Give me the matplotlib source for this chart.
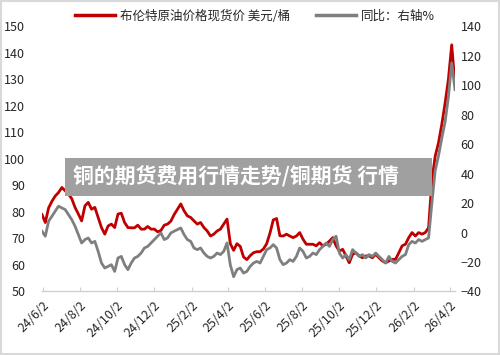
import matplotlib
matplotlib.use('Agg')
import matplotlib.pyplot as plt
from matplotlib.lines import Line2D
from matplotlib.patches import Rectangle
import pandas as pd

plt.rcParams['font.family'] = ['Noto Sans CJK SC', 'DejaVu Sans']

# Brent spot price (USD/bbl) at a regular time step
brent = [79, 76, 81.5, 84, 86, 87.3, 89.2, 88, 86.7, 85,
         81.7, 79.2, 76.6, 82.3, 83.6, 81, 81.7, 77.9, 74.1, 71.6,
         74.7, 75.4, 74.1, 79.2, 79.5, 76, 74.1, 74, 74, 75,
         73.5, 73.5, 74.5, 73.5, 73.5, 72.5, 73, 75, 75.4, 76.5,
         79, 81, 83, 80.4, 78.5, 77.9, 76.6, 75.4, 76, 74.1,
         72.8, 70.9, 71.6, 72.8, 73.5, 75.4, 77.3, 68, 65.5, 68,
         67, 63, 62, 63.5, 64.6, 65, 65, 66, 68, 72,
         77, 77.5, 71, 70.9, 71.6, 70.9, 70.3, 70.9, 72.2, 69.7,
         67.8, 67.8, 67.8, 67.2, 68.4, 67.2, 67.8, 69, 70.3, 67.2,
         65.2, 65.9, 63.4, 60.8, 64, 64.6, 63.4, 62.7, 63.4, 63.4,
         62.7, 64, 62.7, 61.5, 60.8, 61.5, 62.1, 62.1, 64.6, 67.2,
         67.8, 70.3, 72.2, 70.9, 72.2, 71.6, 72.2, 74, 91.8, 101,
         106, 113, 121, 130, 143, 128]

# year-on-year change (%), right axis
yoy = [0.9, -2.5, 7.7, 11, 14.5, 17.9, 16.7, 15.6, 12.2, 8.8,
       4.3, -1.4, -7.1, -4.8, -3.7, -7.1, -6, -12.8, -20.7, -24.1,
       -23, -21.8, -26.4, -17.3, -16.2, -21.8, -25.2, -20.7, -17.3, -16.2,
       -13.9, -10.5, -9.4, -7.1, -4.8, -2.5, -0.3, -4.8, -3.7, -0.3,
       0.9, 2, 3.1, -1.4, -4.8, -6, -10.5, -11.6, -10.5, -13.9,
       -16.2, -17.3, -16.2, -13.9, -15, -12.8, -7.1, -22, -30, -25.2,
       -24.1, -27.5, -26.4, -23, -20.7, -19.6, -20.7, -16.2, -11.6, -10.5,
       -8.2, -10.5, -18.4, -21.8, -20.7, -18.4, -19.6, -16.2, -10.5, -12.8,
       -17.3, -16.2, -13.9, -15, -11.6, -9.4, -7.1, -9.4, -4.8, -2.5,
       -13.9, -17.3, -15, -18.4, -11.6, -13.9, -16.2, -15, -17.3, -15,
       -16.2, -13.9, -16.2, -18.4, -20.7, -16.2, -19.6, -20.7, -18.4, -16.2,
       -15, -8.2, -6, -7.1, -4.8, -6, -4.8, -3.7, 20, 42,
       52, 64, 75, 92, 115, 97]

dates = pd.date_range('2024-06-01', '2026-04-11', periods=len(brent))

tick_dates = ['2024-06-02', '2024-08-02', '2024-10-02', '2024-12-02',
              '2025-02-02', '2025-04-02', '2025-06-02', '2025-08-02',
              '2025-10-02', '2025-12-02', '2026-02-02', '2026-04-02']
tick_labels = ['24/6/2', '24/8/2', '24/10/2', '24/12/2', '25/2/2', '25/4/2',
               '25/6/2', '25/8/2', '25/10/2', '25/12/2', '26/2/2', '26/4/2']

red = '#c00000'
grey = '#7f7f7f'
txt = '#262626'

fig = plt.figure(figsize=(5, 3.55), dpi=100)
ax = fig.add_axes([0.084, 0.179, 0.826, 0.747])
ax2 = ax.twinx()

ax.plot(dates, brent, color=red, lw=2.0, solid_joinstyle='round')
ax2.plot(dates, yoy, color=grey, lw=2.0, solid_joinstyle='round')

ax.set_ylim(50, 150)
ax.set_yticks(range(50, 151, 10))
ax2.set_ylim(-40, 140)
ax2.set_yticks(range(-40, 141, 20))
ax.set_xlim(dates[0], dates[-1])

ax.set_xticks(pd.to_datetime(tick_dates))
ax.set_xticklabels(tick_labels, rotation=45, ha='right', rotation_mode='anchor')

for a in (ax, ax2):
    for s in a.spines.values():
        s.set_visible(False)
    a.tick_params(axis='y', length=0, labelsize=9, colors=txt, pad=4)
ax.spines['bottom'].set_visible(True)
ax.spines['bottom'].set_color('#d0d0d0')
ax.spines['bottom'].set_linewidth(1.0)
ax.tick_params(axis='x', direction='in', length=3, color='#d0d0d0',
               labelsize=9, labelcolor=txt, pad=5)
ax.tick_params(axis='y', pad=12)

handles = [Line2D([], [], color=red, lw=2.5), Line2D([], [], color=grey, lw=2.5)]
fig.legend(handles, ['布伦特原油价格现货价 美元/桶', '同比：右轴%'],
           loc='center', bbox_to_anchor=(0.51, 0.955), ncol=2, frameon=False,
           fontsize=9, handlelength=3.2, columnspacing=2.0, handletextpad=0.4,
           labelcolor=txt)

# grey banner over the plot
fig.add_artist(Rectangle((0.13, 0.448), 0.734, 0.107, transform=fig.transFigure,
                         facecolor='#a0a0a0', edgecolor='none', zorder=10))
fig.text(0.146, 0.501, '铜的期货费用行情走势/铜期货 行情', color='white',
         fontsize=15, fontweight='bold', va='center', ha='left', zorder=11)

# outer frame
fig.add_artist(Rectangle((0.002, 0.003), 0.996, 0.994, transform=fig.transFigure,
                         facecolor='none', edgecolor='#d9d9d9', lw=1.5))

fig.savefig('out.png', dpi=100)
